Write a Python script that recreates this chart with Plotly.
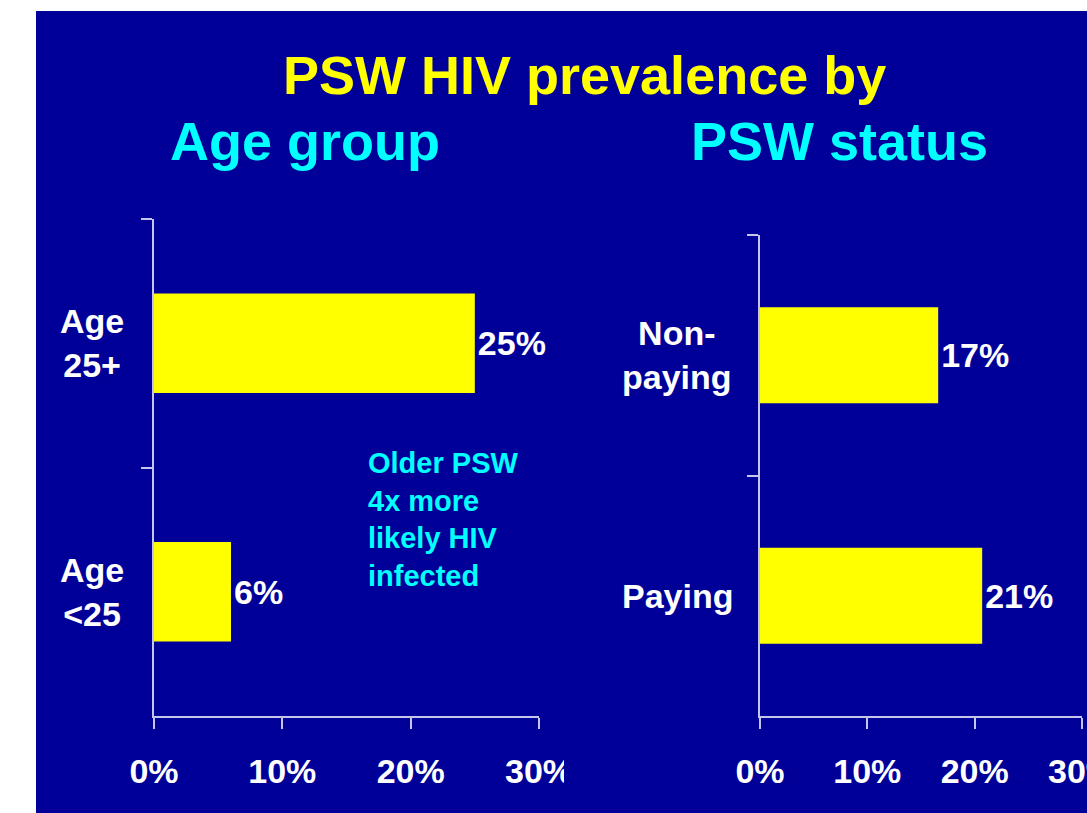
import plotly.graph_objects as go

# ---- data ----
age_categories = ["Age <25", "Age 25+"]
age_labels = ["Age<br>&lt;25", "Age<br>25+"]
age_values = [6.0, 25.0]
age_text = ["6%", "25%"]

status_categories = ["Paying", "Non-paying"]
status_labels = ["Paying", "Non-<br>paying"]
status_values = [20.7, 16.6]
status_text = ["21%", "17%"]

x_tickvals = [0, 10, 20, 30]
x_ticktext = ["0%", "10%", "20%", "30%"]

title_main = "PSW HIV prevalence by"
title_left = "Age group"
title_right = "PSW status"
note_text = "Older PSW<br>4x more<br>likely HIV<br>infected"

# ---- style ----
W, H = 1087, 813
BLUE = "#000099"
YELLOW = "#FFFF00"
CYAN = "#00FFFF"
AXIS = "#c4c4ec"
FONT = "Liberation Sans, Arial, sans-serif"

def px(x):
    return x / W

def py(y):
    return 1 - y / H

fig = go.Figure()

fig.add_trace(go.Bar(
    y=age_categories, x=age_values, orientation="h",
    marker=dict(color=YELLOW, line=dict(width=0)), width=0.4,
    text=age_text, textposition="outside", cliponaxis=False,
    textfont=dict(family=FONT, size=34, color="white", weight="bold"),
    xaxis="x", yaxis="y", hoverinfo="skip", showlegend=False,
))
fig.add_trace(go.Bar(
    y=status_categories, x=status_values, orientation="h",
    marker=dict(color=YELLOW, line=dict(width=0)), width=0.4,
    text=status_text, textposition="outside", cliponaxis=False,
    textfont=dict(family=FONT, size=34, color="white", weight="bold"),
    xaxis="x2", yaxis="y2", hoverinfo="skip", showlegend=False,
))

xaxis_common = dict(
    range=[0, 30], tickvals=x_tickvals, ticktext=x_ticktext,
    showgrid=False, zeroline=False, showline=True, linecolor=AXIS, linewidth=1.5,
    ticks="outside", ticklen=11, tickcolor=AXIS, tickwidth=1.5,
    tickfont=dict(family=FONT, size=34, color="white", weight="bold"),
    ticklabelstandoff=13, ticklabeloverflow="allow",
    fixedrange=True, automargin=False,
)
yaxis_common = dict(
    type="category", showgrid=False, zeroline=False, showline=True,
    linecolor=AXIS, linewidth=1.5, ticks="outside", ticklen=11,
    tickcolor=AXIS, tickwidth=1.5, tickson="boundaries",
    showticklabels=False, fixedrange=True, automargin=False,
)

fig.update_layout(
    width=W, height=H,
    margin=dict(l=0, r=0, t=0, b=0, pad=0),
    paper_bgcolor="white", plot_bgcolor="rgba(0,0,0,0)",
    bargap=0.6,
    xaxis=dict(domain=[px(154), px(539)], anchor="y", **xaxis_common),
    yaxis=dict(domain=[py(716), py(219)], anchor="x",
               categoryorder="array", categoryarray=age_categories, **yaxis_common),
    xaxis2=dict(domain=[px(760), px(1082)], anchor="y2", **xaxis_common),
    yaxis2=dict(domain=[py(716), py(235)], anchor="x2",
                categoryorder="array", categoryarray=status_categories, **yaxis_common),
    shapes=[
        dict(type="rect", xref="paper", yref="paper", x0=px(36), x1=1.0, y0=0, y1=py(11),
             fillcolor=BLUE, line=dict(width=0), layer="below"),
        # clip of the left chart's last tick label
        dict(type="rect", xref="paper", yref="paper", x0=px(564), x1=px(620), y0=py(800), y1=py(740),
             fillcolor=BLUE, line=dict(width=0), layer="above"),
    ],
)

annotations = [
    dict(text=title_main, x=px(584), y=py(75), xref="paper", yref="paper",
         xanchor="center", yanchor="middle", showarrow=False,
         font=dict(family=FONT, size=54, color=YELLOW, weight="bold")),
    dict(text=title_left, x=px(305), y=py(141), xref="paper", yref="paper",
         xanchor="center", yanchor="middle", showarrow=False,
         font=dict(family=FONT, size=54, color=CYAN, weight="bold")),
    dict(text=title_right, x=px(839), y=py(141), xref="paper", yref="paper",
         xanchor="center", yanchor="middle", showarrow=False,
         font=dict(family=FONT, size=54, color=CYAN, weight="bold")),
    dict(text=note_text, x=px(366), y=py(519), xref="paper", yref="paper",
         xanchor="left", yanchor="middle", align="left", showarrow=False,
         font=dict(family=FONT, size=29, color=CYAN, weight="bold")),
]
for cat, lab in zip(age_categories, age_labels):
    annotations.append(dict(text=lab, x=px(92), y=cat, xref="paper", yref="y",
                            xanchor="center", yanchor="middle", align="center", showarrow=False,
                            font=dict(family=FONT, size=34, color="white", weight="bold")))
for cat, lab in zip(status_categories, status_labels):
    annotations.append(dict(text=lab, x=px(677), y=cat, xref="paper", yref="y2",
                            xanchor="center", yanchor="middle", align="center", showarrow=False,
                            font=dict(family=FONT, size=34, color="white", weight="bold")))
fig.update_layout(annotations=annotations)

fig.write_html(
    "out.html",
    config={"displayModeBar": False},
    post_script="document.body.style.margin='0';document.body.style.overflow='hidden';",
)
